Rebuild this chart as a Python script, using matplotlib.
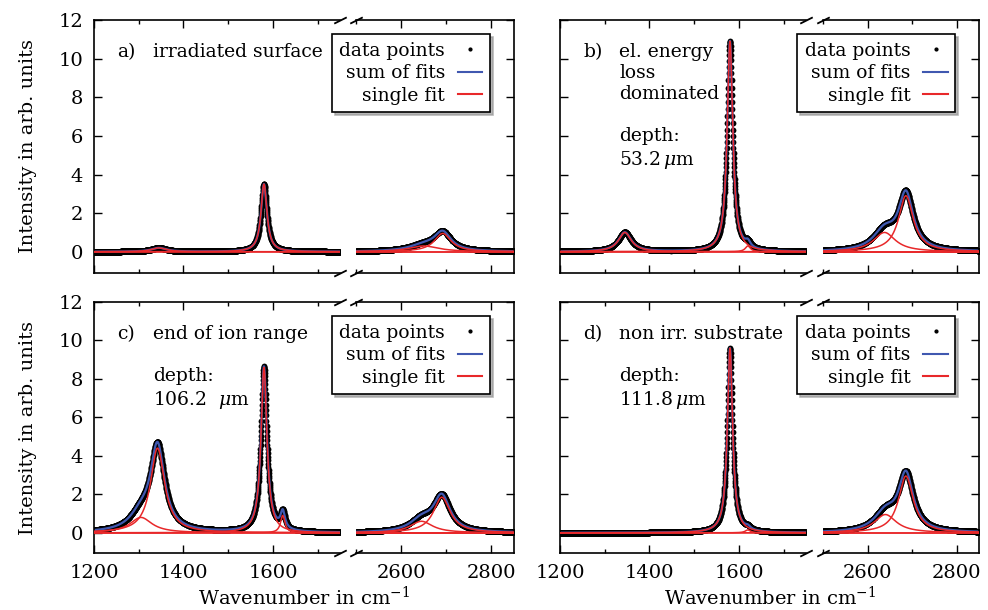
import numpy as np
import matplotlib
matplotlib.use('Agg')
import matplotlib.pyplot as plt
from matplotlib.lines import Line2D
from matplotlib.ticker import MultipleLocator

plt.rcParams['font.family'] = ['DejaVu Serif']
plt.rcParams['mathtext.fontset'] = 'dejavuserif'

# x ranges of the two axis parts (cm^-1)
x_low = (1200, 1750)
x_high = (2500, 2850)

# peak fits: centre, height, FWHM
pos_a = [1345, 1580, 2650, 2692]
hgt_a = [0.2, 3.5, 0.3, 0.95]
fwhm_a = [40, 16, 80, 45]

pos_b = [1345, 1580, 1620, 2638, 2686]
hgt_b = [1.0, 10.9, 0.3, 1.0, 2.9]
fwhm_b = [35, 15, 14, 60, 40]

pos_c = [1305, 1342, 1580, 1622, 2645, 2690]
hgt_c = [0.8, 4.4, 8.6, 0.9, 0.6, 1.85]
fwhm_c = [60, 38, 16, 12, 60, 45]

pos_d = [1580, 1620, 2640, 2686]
hgt_d = [9.6, 0.15, 0.95, 2.95]
fwhm_d = [14, 14, 60, 40]

panel_tags = ['a)', 'b)', 'c)', 'd)']
panel_notes = ['irradiated surface',
               'el. energy\nloss\ndominated\n\ndepth:\n53.2$\\,\\mu$m',
               'end of ion range\n\ndepth:\n106.2  $\\mu$m',
               'non irr. substrate\n\ndepth:\n111.8$\\,\\mu$m']
legend_labels = ['data points', 'sum of fits', 'single fit']

blue = '#4058b0'
red = '#e8282a'
W, H = 988., 610.


def lorentz(x, c, h, w):
    return h / (1.0 + ((x - c) / (w / 2.0)) ** 2)


def fx(px):
    return px / W


def fy(py):
    return 1 - py / H


fig = plt.figure(figsize=(9.88, 6.10), dpi=100)

# pixel boxes of each panel: (x_left_start, x_left_end, x_right_start, x_right_end, y_top, y_bottom)
boxes = [(94, 340, 356, 514, 20, 273),
         (560, 806, 823, 979, 20, 273),
         (94, 340, 356, 514, 302, 553),
         (560, 806, 823, 979, 302, 553)]
peaks = [(pos_a, hgt_a, fwhm_a), (pos_b, hgt_b, fwhm_b),
         (pos_c, hgt_c, fwhm_c), (pos_d, hgt_d, fwhm_d)]
ylims = [(-1.1, 12), (-1.1, 12), (-1.05, 12), (-1.05, 12)]

brk = dict(marker=[(-1, -0.5), (1, 0.5)], markersize=9, linestyle='none',
           color='k', mec='k', mew=1.3, clip_on=False)

for i in range(4):
    xl0, xl1, xr0, xr1, yt, yb = boxes[i]
    axl = fig.add_axes([fx(xl0), fy(yb), fx(xl1 - xl0), (yb - yt) / H])
    axr = fig.add_axes([fx(xr0), fy(yb), fx(xr1 - xr0), (yb - yt) / H])
    pos, hgt, fw = peaks[i]
    for ax, rng in ((axl, x_low), (axr, x_high)):
        x = np.arange(rng[0], rng[1] + 0.1, 0.4)
        singles = [lorentz(x, c, h, w) for c, h, w in zip(pos, hgt, fw)]
        total = np.sum(singles, axis=0)
        ax.plot(x, total, 'o', color='k', ms=4.2, mew=0, zorder=1)
        ax.plot(x, total, color=blue, lw=1.6, zorder=2)
        for s in singles:
            ax.plot(x, s, color=red, lw=1.1, zorder=3)
        ax.set_xlim(rng)
        ax.set_ylim(ylims[i])
        ax.yaxis.set_major_locator(MultipleLocator(2))
        ax.xaxis.set_major_locator(MultipleLocator(200))
        ax.xaxis.set_minor_locator(MultipleLocator(100))
        ax.tick_params(which='both', direction='in', top=True, labelsize=14, width=1)
        ax.tick_params(which='major', length=6, pad=8)
        ax.tick_params(which='minor', length=3)
        for sp in ax.spines.values():
            sp.set_linewidth(1.2)
        if i < 2:
            ax.tick_params(labelbottom=False)
    axl.spines['right'].set_visible(False)
    axr.spines['left'].set_visible(False)
    axl.tick_params(axis='y', right=False, labelleft=(i % 2 == 0))
    axr.tick_params(axis='y', left=False, right=True, labelleft=False)
    axl.plot([1, 1], [0, 1], transform=axl.transAxes, **brk)
    axr.plot([0, 0], [0, 1], transform=axr.transAxes, **brk)

    handles = [Line2D([], [], marker='.', color='k', ls='none', ms=4),
               Line2D([], [], color=blue, lw=1.5),
               Line2D([], [], color=red, lw=1.5)]
    top = (yb - (yt + 14)) / (yb - yt)
    leg = axr.legend(handles, legend_labels, loc='upper right', bbox_to_anchor=(0.848, top),
                     borderaxespad=0, markerfirst=False, fancybox=False, edgecolor='k',
                     framealpha=1, shadow={'color': '0.6', 'alpha': 0.7}, fontsize=13.5,
                     handlelength=1.3, handletextpad=0.7, labelspacing=0.25, borderpad=0.4)
    leg.get_frame().set_linewidth(1.2)

    tx = xl0 + 23
    fig.text(fx(tx), fy(yt + 37), panel_tags[i], fontsize=13.5, va='baseline')
    fig.text(fx(tx + 36), fy(yt + 23), panel_notes[i], fontsize=13.5, va='top',
             linespacing=1.22)

for yc in (146, 428):
    fig.text(fx(28), fy(yc), 'Intensity in arb. units', rotation=90, fontsize=14,
             ha='center', va='center')
for xc in (304, 770):
    fig.text(fx(xc), fy(597), 'Wavenumber in cm$^{-1}$', fontsize=14,
             ha='center', va='center')

fig.savefig('out.png', dpi=100)
